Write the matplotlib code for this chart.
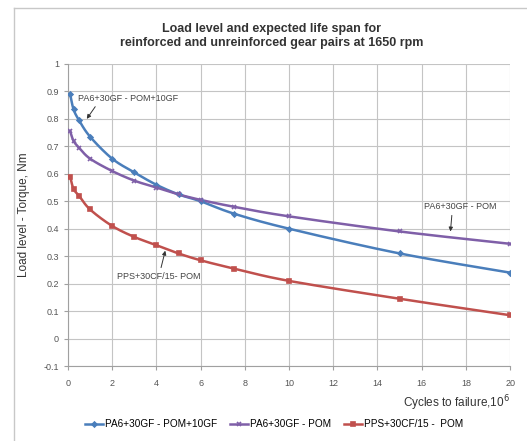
import numpy as np
import matplotlib
matplotlib.use("Agg")
import matplotlib.pyplot as plt
from matplotlib.lines import Line2D

plt.rcParams['font.family'] = ['Liberation Sans', 'DejaVu Sans']

cycles = [0.1, 0.25, 0.5, 1, 2, 3, 4, 5, 6, 7.5, 10, 15, 20]
pa6_pom10gf = [0.89, 0.835, 0.795, 0.735, 0.655, 0.605, 0.56, 0.525, 0.5, 0.455, 0.4, 0.31, 0.24]
pa6_pom = [0.755, 0.72, 0.695, 0.655, 0.61, 0.575, 0.55, 0.525, 0.505, 0.48, 0.445, 0.39, 0.345]
pps_pom = [0.59, 0.545, 0.52, 0.47, 0.41, 0.37, 0.34, 0.31, 0.285, 0.255, 0.21, 0.145, 0.085]

series = [
    ("PA6+30GF - POM+10GF", pa6_pom10gf, '#4a7ebb', 'D', 2.5),
    ("PA6+30GF - POM", pa6_pom, '#7f5fa8', 'x', 3.5),
    ("PPS+30CF/15 -  POM", pps_pom, '#c0504d', 's', 3.3),
]


def smooth(x, y, n=20):
    # catmull-rom style smoothing, like excel "smoothed line"
    x = np.asarray(x, float)
    y = np.asarray(y, float)
    px = np.concatenate([[x[0]], x, [x[-1]]])
    py = np.concatenate([[y[0]], y, [y[-1]]])
    xs, ys = [], []
    t = np.linspace(0, 1, n)
    for i in range(1, len(px) - 2):
        p0, p1, p2, p3 = px[i-1], px[i], px[i+1], px[i+2]
        q0, q1, q2, q3 = py[i-1], py[i], py[i+1], py[i+2]
        c1x, c1y = p1 + (p2 - p0) / 6, q1 + (q2 - q0) / 6
        c2x, c2y = p2 - (p3 - p1) / 6, q2 - (q3 - q1) / 6
        bx = (1-t)**3*p1 + 3*(1-t)**2*t*c1x + 3*(1-t)*t**2*c2x + t**3*p2
        by = (1-t)**3*q1 + 3*(1-t)**2*t*c1y + 3*(1-t)*t**2*c2y + t**3*q2
        xs.extend(bx)
        ys.extend(by)
    return xs, ys


fig = plt.figure(figsize=(5.27, 4.41), dpi=100)
ax = fig.add_axes([0.129, 0.170, 0.839, 0.685])

handles = []
for name, vals, col, mk, ms in series:
    sx, sy = smooth(cycles, vals)
    ax.plot(sx, sy, color=col, lw=1.8, zorder=3)
    ax.plot(cycles, vals, ls='none', marker=mk, color=col, ms=ms, mew=1.2, zorder=4)
    handles.append(Line2D([], [], color=col, lw=1.8, marker=mk, ms=ms, mew=1.2))

ax.set_xlim(0, 20)
ax.set_ylim(-0.1, 1)
ax.set_xticks(np.arange(0, 21, 2))
ax.set_yticks(np.round(np.arange(-0.1, 1.01, 0.1), 1))
ax.set_yticklabels(['-0.1', '0', '0.1', '0.2', '0.3', '0.4', '0.5', '0.6', '0.7', '0.8', '0.9', '1'])
ax.grid(True, color='#c4c4c4', lw=0.8)
ax.set_axisbelow(True)
for s in ['top', 'right']:
    ax.spines[s].set_visible(False)
for s in ['left', 'bottom']:
    ax.spines[s].set_color('#a0a0a0')
ax.tick_params(labelsize=6.5, colors='#555555', length=3, color='#a0a0a0')
ax.tick_params(axis='x', pad=6)

ax.set_ylabel("Load level - Torque, Nm", fontsize=8.5, color='#333333', labelpad=10)
fig.text(0.968, 0.085, "Cycles to failure,10$^6$", fontsize=8.5, color='#333333', ha='right', va='center')

fig.text(0.515, 0.918, "Load level and expected life span for\nreinforced and unreinforced gear pairs at 1650 rpm",
         ha='center', va='center', fontsize=9, fontweight='bold', color='#333333', linespacing=1.25)

arr = dict(arrowstyle='-|>', color='#333333', lw=0.7, mutation_scale=6, shrinkA=1, shrinkB=0)
ax.annotate("PA6+30GF - POM+10GF", xy=(0.85, 0.80), xytext=(0.45, 0.875),
            fontsize=6.5, color='#444444', va='center', arrowprops=dict(arr, relpos=(0.2, 0)))
ax.annotate("PA6+30GF - POM", xy=(17.3, 0.39), xytext=(16.1, 0.48),
            fontsize=6.5, color='#444444', va='center', arrowprops=dict(arr, relpos=(0.39, 0)))
ax.annotate("PPS+30CF/15- POM", xy=(4.4, 0.32), xytext=(2.2, 0.227),
            fontsize=6.5, color='#444444', va='center', arrowprops=dict(arr, relpos=(0.52, 1)))

fig.legend(handles, [s[0] for s in series], loc='center', bbox_to_anchor=(0.52, 0.038),
           ncol=3, frameon=False, fontsize=7.2, handlelength=1.8, handletextpad=0.2, columnspacing=1.3)

# outer chart border
fig.add_artist(Line2D([0.027, 0.027], [0, 0.982], color='#c8c8c8', lw=1))
fig.add_artist(Line2D([0.027, 1], [0.982, 0.982], color='#c8c8c8', lw=1))

fig.savefig("out.png", dpi=100)
